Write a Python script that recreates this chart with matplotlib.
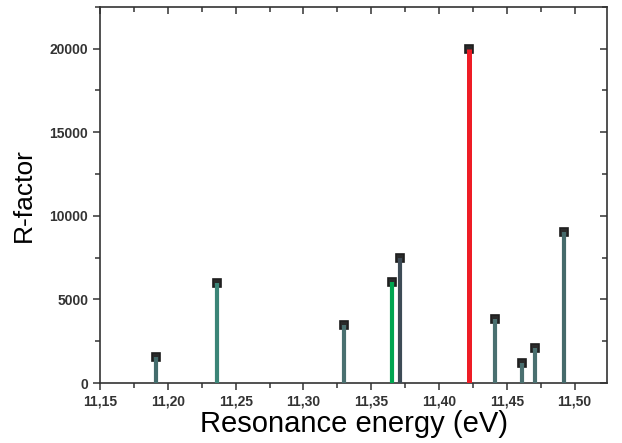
import matplotlib.pyplot as plt
from matplotlib.ticker import MultipleLocator, FuncFormatter

plt.rcParams['font.family'] = ['Liberation Sans', 'DejaVu Sans']

energy = [11.191, 11.236, 11.330, 11.365, 11.371, 11.422, 11.441, 11.461, 11.471, 11.492]
rfactor = [1550, 6000, 3450, 6050, 7480, 20000, 3850, 1180, 2080, 9060]
colors = ['#436c6c', '#3b8577', '#4a7070', '#00a550', '#3d4b56', '#ee1c25',
          '#4a7070', '#4a7070', '#4a7070', '#456a6b']

fig = plt.figure(figsize=(6.22, 4.43), dpi=100)
ax = fig.add_axes([0.161, 0.1354, 0.815, 0.849])

for x, y, c in zip(energy, rfactor, colors):
    lw = 3.6 if c == '#ee1c25' else 3.0
    ax.plot(x, y, marker='s', ms=5.2, mfc='#2a2a2a', mec='#1e1e1e', mew=1.2, zorder=2)
    ax.plot([x, x], [0, y], color=c, lw=lw, solid_capstyle='butt', zorder=3)

ax.set_xlim(11.15, 11.524)
ax.set_ylim(0, 22500)

ax.xaxis.set_major_locator(MultipleLocator(0.05))
ax.xaxis.set_minor_locator(MultipleLocator(0.025))
ax.yaxis.set_major_locator(MultipleLocator(5000))
ax.yaxis.set_minor_locator(MultipleLocator(2500))
ax.xaxis.set_major_formatter(FuncFormatter(lambda v, p: f'{v:.2f}'.replace('.', ',')))

for s in ax.spines.values():
    s.set_color('#333333')
    s.set_linewidth(1.2)

ax.tick_params(which='both', direction='out', color='#333333', width=1.1,
               top=False, right=False, labelsize=10, labelcolor='#333333')
ax.tick_params(which='major', length=5)
ax.tick_params(which='minor', length=3.5)
for lab in ax.get_xticklabels() + ax.get_yticklabels():
    lab.set_fontweight('bold')

# inward ticks on top and right
sec_x = ax.secondary_xaxis('top')
sec_x.xaxis.set_major_locator(MultipleLocator(0.05))
sec_x.xaxis.set_minor_locator(MultipleLocator(0.025))
sec_x.tick_params(which='both', direction='in', labeltop=False, color='#333333', width=1.1)
sec_x.tick_params(which='major', length=5)
sec_x.tick_params(which='minor', length=3.5)
sec_x.spines['top'].set_visible(False)
sec_y = ax.secondary_yaxis('right')
sec_y.yaxis.set_major_locator(MultipleLocator(5000))
sec_y.yaxis.set_minor_locator(MultipleLocator(2500))
sec_y.tick_params(which='both', direction='in', labelright=False, color='#333333', width=1.1)
sec_y.tick_params(which='major', length=5)
sec_y.tick_params(which='minor', length=3.5)
sec_y.spines['right'].set_visible(False)

ax.set_xlabel('Resonance energy (eV)', fontsize=21, labelpad=1)
ax.set_ylabel('R-factor', fontsize=19, labelpad=10)

fig.savefig('out.png', dpi=100)
